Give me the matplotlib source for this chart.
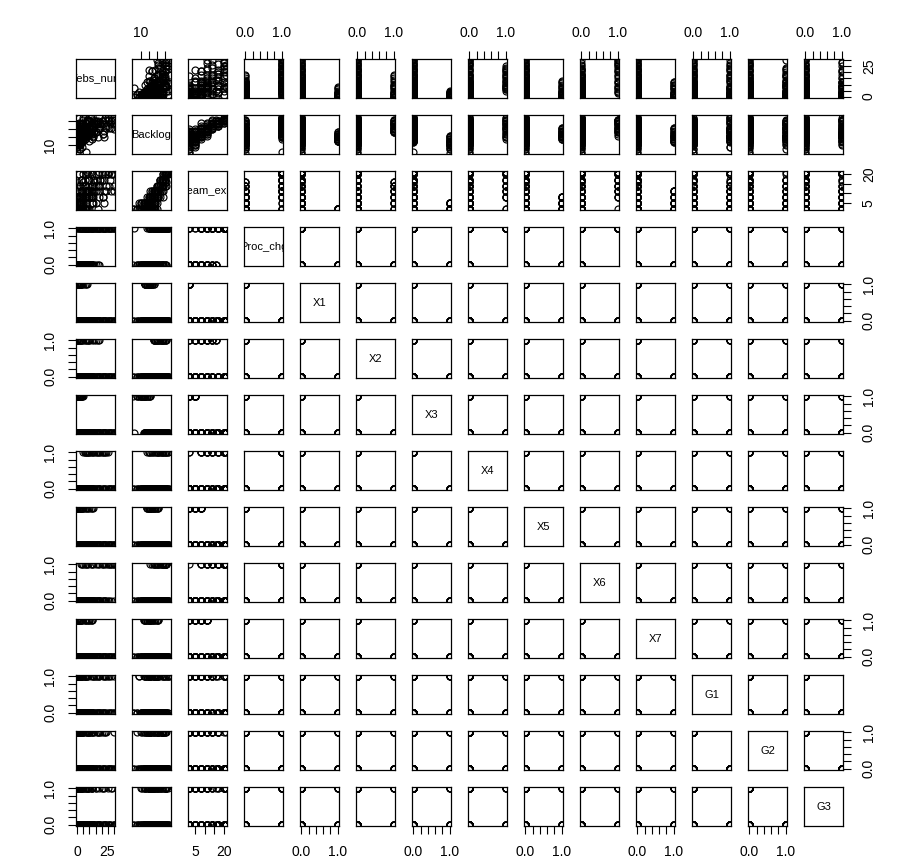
import numpy as np
import matplotlib
matplotlib.use("Agg")
import matplotlib.pyplot as plt

plt.rcParams['font.family'] = ['Liberation Sans', 'DejaVu Sans']

names = ["Webs_num", "Backlog", "Team_exp", "Proc_chg",
         "X1", "X2", "X3", "X4", "X5", "X6", "X7", "G1", "G2", "G3"]

# observations, grouped by X level (0 = baseline), 12 per level, two batches
team_exp = [2, 17, 20, 14, 11, 20, 8, 17, 5, 14, 20, 11,
            2, 2, 2, 2, 2, 2, 2, 2, 2, 2, 2, 2,
            5, 8, 11, 14, 2, 16, 8, 11, 5, 14, 2, 11,
            2, 5, 2, 5, 2, 5, 2, 5, 2, 5, 2, 5,
            2, 8, 11, 14, 17, 20, 11, 14, 17, 20, 8, 20,
            2, 5, 8, 5, 2, 8, 8, 5, 2, 5, 8, 2,
            2, 20, 17, 11, 14, 20, 8, 17, 14, 20, 11, 17,
            5, 8, 11, 2, 11, 8, 5, 11, 2, 8, 5, 11,
            20, 14, 17, 8, 21, 11, 14, 5, 20, 17, 11, 21,
            2, 2, 2, 2, 2, 2, 2, 2, 2, 2, 2, 2,
            8, 11, 14, 5, 16, 2, 11, 8, 14, 5, 16, 8,
            2, 5, 2, 5, 2, 5, 2, 5, 2, 5, 2, 5,
            11, 17, 20, 8, 21, 14, 2, 17, 11, 14, 21, 8,
            2, 5, 8, 5, 8, 2, 5, 8, 2, 8, 5, 2,
            14, 21, 17, 8, 20, 11, 21, 14, 17, 11, 8, 20,
            8, 11, 5, 2, 8, 11, 5, 2, 8, 11, 5, 2]
backlog = [6, 24, 26, 21, 19, 27, 16, 23, 15, 22, 25, 18,
           13, 14, 15, 16, 17, 13, 18, 14, 16, 15, 17, 13,
           18, 20, 22, 24, 19, 25, 21, 23, 20, 26, 18, 24,
           8, 10, 12, 14, 9, 16, 11, 13, 10, 15, 14, 12,
           14, 17, 19, 21, 24, 27, 20, 22, 23, 25, 16, 26,
           14, 15, 17, 16, 15, 19, 21, 18, 16, 17, 20, 14,
           16, 26, 24, 19, 22, 25, 18, 23, 21, 26, 20, 25,
           12, 15, 18, 13, 19, 16, 14, 21, 12, 17, 15, 20,
           27, 23, 25, 18, 28, 20, 24, 16, 26, 22, 17, 27,
           14, 16, 17, 15, 13, 18, 16, 14, 17, 15, 13, 16,
           19, 21, 23, 18, 26, 20, 22, 24, 25, 19, 23, 22,
           5.5, 11, 13, 9, 15, 12, 8, 14, 16, 10, 11, 13,
           18, 22, 24, 15, 27, 20, 15, 25, 21, 23, 26, 17,
           16, 17, 18, 14, 20, 15, 19, 16, 17, 21, 15, 18,
           20, 26, 22, 17, 24, 21, 25, 23, 24, 19, 18, 26,
           14, 17, 13, 14, 18, 16, 16, 13, 20, 21, 17, 15]
webs_num = [7, 3, 12, 26, 8, 1, 4, 19, 22, 2, 28, 15,
            0, 1, 2, 0, 3, 1, 0, 2, 8, 3, 0, 2,
            3, 10, 0, 6, 1, 14, 18, 4, 2, 9, 0, 12,
            1, 0, 3, 2, 4, 1, 0, 5, 2, 0, 1, 3,
            6, 10, 14, 18, 22, 25, 8, 12, 16, 20, 5, 9,
            0, 4, 8, 13, 2, 6, 10, 1, 3, 0, 12, 5,
            3, 30, 27, 7, 24, 15, 11, 20, 5, 29, 18, 9,
            2, 0, 6, 1, 9, 4, 12, 3, 0, 7, 1, 10,
            5, 0, 10, 2, 18, 30, 14, 1, 23, 6, 0, 11,
            5, 7, 1, 0, 4, 2, 0, 1, 6, 3, 0, 2,
            0, 7, 2, 15, 5, 0, 10, 1, 17, 3, 0, 8,
            0, 2, 1, 0, 3, 1, 2, 0, 4, 1, 0, 2,
            11, 19, 7, 13, 23, 6, 17, 10, 24, 15, 8, 21,
            1, 7, 0, 3, 11, 0, 5, 2, 9, 0, 1, 4,
            12, 26, 4, 21, 17, 28, 8, 30, 13, 22, 6, 25,
            3, 11, 0, 6, 1, 8, 2, 10, 0, 4, 12, 1]
x_level = ([0] * 12 + [1] * 12 + [2] * 12 + [3] * 12 + [4] * 12 + [5] * 12 + [6] * 12 + [7] * 12) * 2
g_level = [0, 0, 0, 1, 1, 1, 2, 2, 2, 3, 3, 3] * 16
proc_by_x_level = [1, 0, 0, 0, 1, 0, 1, 0]

x_lv = np.array(x_level)
g_lv = np.array(g_level)
columns = [np.array(webs_num, float), np.array(backlog, float), np.array(team_exp, float),
           np.array([proc_by_x_level[v] for v in x_level], float)]
columns += [(x_lv == k).astype(float) for k in range(1, 8)]
columns += [(g_lv == k).astype(float) for k in range(1, 4)]

bin_ticks = [0.0, 0.2, 0.4, 0.6, 0.8, 1.0]
bin_labels = ["0.0", "", "", "", "", "1.0"]
ticks = {0: ([0, 5, 10, 15, 20, 25, 30], ["0", "", "", "", "", "25", ""]),
         1: ([10, 15, 20, 25], ["10", "", "", ""]),
         2: ([5, 10, 15, 20], ["5", "", "", "20"])}

n = len(names)
W, H = 917, 866
fig = plt.figure(figsize=(W / 100, H / 100), dpi=100)
x0, y0, pitch, size = 76, 59, 56, 39

lims = []
for col in columns:
    lo, hi = col.min(), col.max()
    r = hi - lo
    lims.append((lo - 0.04 * r, hi + 0.04 * r))

xtick_kw = dict(direction='out', length=5.5, width=0.8, labelsize=10, pad=8)
ytick_kw = dict(direction='out', length=5.5, width=0.8, labelsize=10, pad=8)

for r in range(n):
    for c in range(n):
        left = (x0 + pitch * c) / W
        bottom = 1 - (y0 + pitch * r + size) / H
        ax = fig.add_axes([left, bottom, size / W, size / H])
        ax.set_xlim(lims[c])
        ax.set_ylim(lims[r])
        for sp in ax.spines.values():
            sp.set_linewidth(0.9)
        if r == c:
            ax.text(0.5, 0.5, names[r], transform=ax.transAxes, ha='center', va='center',
                    fontsize=8, clip_on=True)
        else:
            ax.plot(columns[c], columns[r], 'o', mfc='none', mec='black', ms=5.0, mew=0.85,
                    linestyle='none')
        ax.set_xticks([])
        ax.set_yticks([])
        tk_c = ticks.get(c, (bin_ticks, bin_labels))
        tk_r = ticks.get(r, (bin_ticks, bin_labels))
        if r == 0 and c % 2 == 1:
            ax.xaxis.set_ticks_position('top')
            ax.set_xticks(tk_c[0])
            ax.set_xticklabels(tk_c[1])
            ax.tick_params(axis='x', top=True, labeltop=True, bottom=False, labelbottom=False, **xtick_kw)
        if r == n - 1 and c % 2 == 0:
            ax.set_xticks(tk_c[0])
            ax.set_xticklabels(tk_c[1])
            ax.tick_params(axis='x', bottom=True, labelbottom=True, **xtick_kw)
        if c == 0 and r % 2 == 1:
            ax.set_yticks(tk_r[0])
            ax.set_yticklabels(tk_r[1], rotation=90, va='center', ha='right')
            ax.tick_params(axis='y', left=True, labelleft=True, **ytick_kw)
        if c == n - 1 and r % 2 == 0:
            ax.yaxis.set_ticks_position('right')
            ax.set_yticks(tk_r[0])
            ax.set_yticklabels(tk_r[1], rotation=90, va='center', ha='left')
            ax.tick_params(axis='y', right=True, labelright=True, left=False, labelleft=False, **ytick_kw)

fig.savefig("out.png", dpi=100)
